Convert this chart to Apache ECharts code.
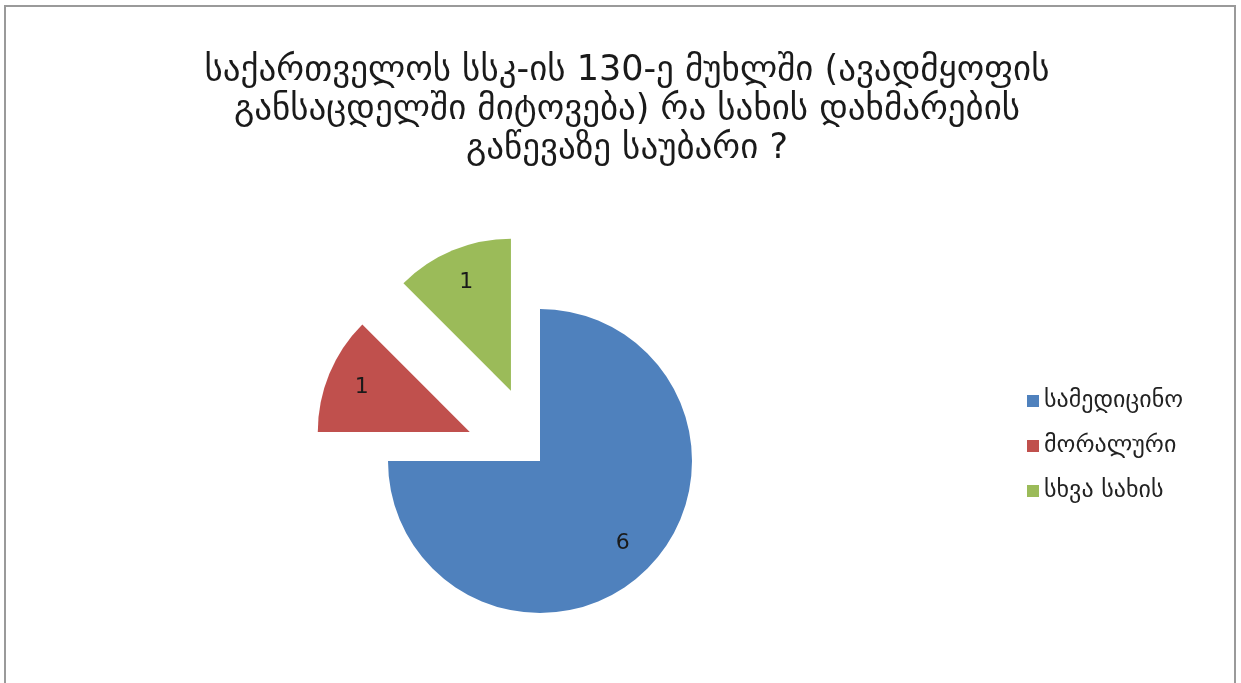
<!DOCTYPE html>
<html>
<head>
<meta charset="utf-8">
<style>
  html, body { margin: 0; padding: 0; background: #ffffff; }
  #chart { width: 1241px; height: 683px; }
</style>
<script src="https://cdn.jsdelivr.net/npm/echarts@6/dist/echarts.min.js"></script>
</head>
<body>
<div id="chart"></div>
<script>
// Kinds of help referred to in article 130 of the Criminal Code
const categories = ['სამედიცინო', 'მორალური', 'სხვა სახის'];
const values = [6, 1, 1];
const exploded = [false, true, true];
const colors = ['#4f81bd', '#c0504d', '#9bbb59'];

const titleText = 'საქართველოს სსკ-ის 130-ე მუხლში (ავადმყოფის\nგანსაცდელში მიტოვება) რა სახის დახმარების\nგაწევაზე საუბარი ?';

const FONT = '"DejaVu Sans", "Noto Sans", sans-serif';
const CENTER = [540, 461];
const R = 152;
const OFFSET = 76;

const pieData = categories.map((name, i) => ({
  name: name,
  value: values[i],
  selected: exploded[i],
  itemStyle: { color: colors[i] }
}));

const chart = echarts.init(document.getElementById('chart'), null, { renderer: 'canvas' });

chart.setOption({
  backgroundColor: '#ffffff',
  animation: false,
  graphic: [{
    type: 'rect',
    shape: { x: 5, y: 6, width: 1230, height: 700 },
    style: { fill: 'none', stroke: '#9a9a9a', lineWidth: 2 },
    silent: true
  }],
  title: {
    text: titleText,
    left: 622,
    top: 46,
    textAlign: 'center',
    textStyle: {
      fontFamily: FONT,
      fontSize: 35,
      fontWeight: 'normal',
      color: '#1a1a1a',
      lineHeight: 39
    }
  },
  legend: {
    orient: 'vertical',
    left: 1022,
    top: 384,
    itemWidth: 12,
    itemHeight: 12,
    itemGap: 21,
    icon: 'rect',
    data: categories,
    textStyle: { fontFamily: FONT, fontSize: 24, color: '#222222' }
  },
  series: [
    {
      type: 'pie',
      name: 'slices',
      center: CENTER,
      radius: [0, R],
      startAngle: 90,
      clockwise: true,
      selectedMode: 'multiple',
      selectedOffset: OFFSET,
      label: { show: false },
      labelLine: { show: false },
      emphasis: { disabled: true },
      data: pieData
    },
    {
      // value labels placed further out along each slice
      type: 'pie',
      name: 'labels',
      center: CENTER,
      radius: [R * 0.5, R],
      startAngle: 90,
      clockwise: true,
      selectedMode: 'multiple',
      selectedOffset: OFFSET,
      silent: true,
      itemStyle: { color: 'rgba(0,0,0,0)' },
      emphasis: { disabled: true },
      label: {
        show: true,
        position: 'inside',
        formatter: '{c}',
        fontFamily: FONT,
        fontSize: 22,
        color: '#1a1a1a'
      },
      labelLine: { show: false },
      data: categories.map((name, i) => ({
        name: name,
        value: values[i],
        selected: exploded[i],
        itemStyle: { color: 'rgba(0,0,0,0)' }
      }))
    }
  ]
});
</script>
</body>
</html>
